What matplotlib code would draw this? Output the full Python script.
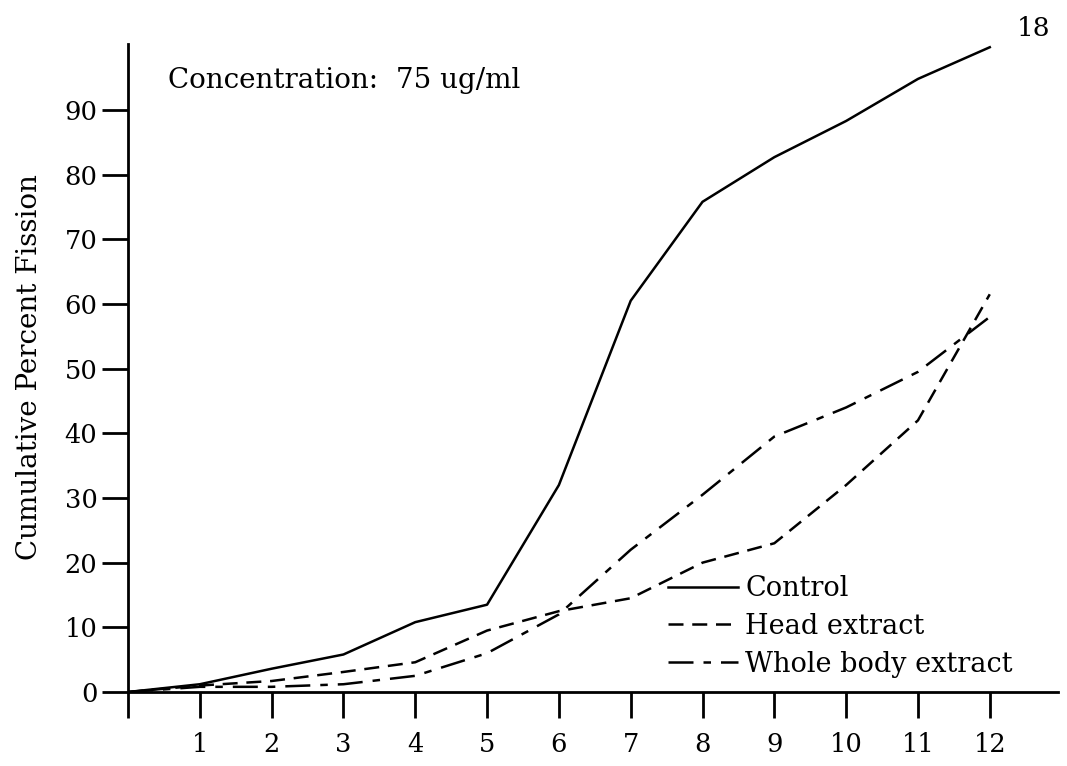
import numpy as np
import matplotlib.pyplot as plt
from matplotlib.lines import Line2D

plt.rcParams['font.family'] = ['DejaVu Serif']

# days after treatment and cumulative percent fission
days = [0, 1, 2, 3, 4, 5, 6, 7, 8, 9, 10, 11, 12]
control = [0, 1.2, 3.6, 5.8, 10.8, 13.5, 32, 60.5, 75.8, 82.7, 88.3, 94.8, 99.7]
head = [0, 1.0, 1.7, 3.1, 4.6, 9.5, 12.5, 14.5, 20, 23, 32, 42, 61.5]
whole_body = [0, 0.8, 0.8, 1.2, 2.5, 6, 12, 22, 30.5, 39.5, 44, 49.5, 58]

yticks = [0, 10, 20, 30, 40, 50, 60, 70, 80, 90]
xticks = list(range(0, 13))
xlabels = [''] + [str(d) for d in range(1, 13)]

fig = plt.figure(figsize=(10.67, 7.66), dpi=100)
ax = fig.add_axes([128/1067, 74/766, 930/1067, 648/766])

lw = 1.8
ax.plot(days, control, color='black', lw=lw, label='Control')
ax.plot(days, head, color='black', lw=lw, dashes=(6, 3.5), label='Head extract')
ax.plot(days, whole_body, color='black', lw=lw, dashes=(10, 4, 3, 4),
        label='Whole body extract')

ax.set_xlim(0, 12.95)
ax.set_ylim(0, 100.2)

for side in ['top', 'right']:
    ax.spines[side].set_visible(False)
for side in ['left', 'bottom']:
    ax.spines[side].set_linewidth(2.0)

ax.set_yticks(yticks)
ax.set_yticklabels([str(v) for v in yticks])
ax.set_xticks(xticks)
ax.set_xticklabels(xlabels)
ax.tick_params(axis='y', length=19, width=2.0, pad=3, labelsize=18.5)
ax.tick_params(axis='x', length=19, width=2.0, pad=10, labelsize=18.5)

fig.text(30/1067, 1 - 367/766, 'Cumulative Percent Fission', rotation=90,
         ha='center', va='center', fontsize=20)
fig.text(168/1067, 1 - 80/766, 'Concentration:  75 ug/ml',
         ha='left', va='center', fontsize=20)
fig.text(1033/1067, 1 - 28/766, '18', ha='center', va='center', fontsize=19)

leg = ax.legend(loc='upper left', bbox_to_anchor=(668/1067, 1 - 575/766),
                bbox_transform=fig.transFigure, frameon=False, fontsize=19.5,
                handlelength=2.6, handletextpad=0.25, labelspacing=0.4,
                borderpad=0, borderaxespad=0)

fig.savefig('out.png', dpi=100)
